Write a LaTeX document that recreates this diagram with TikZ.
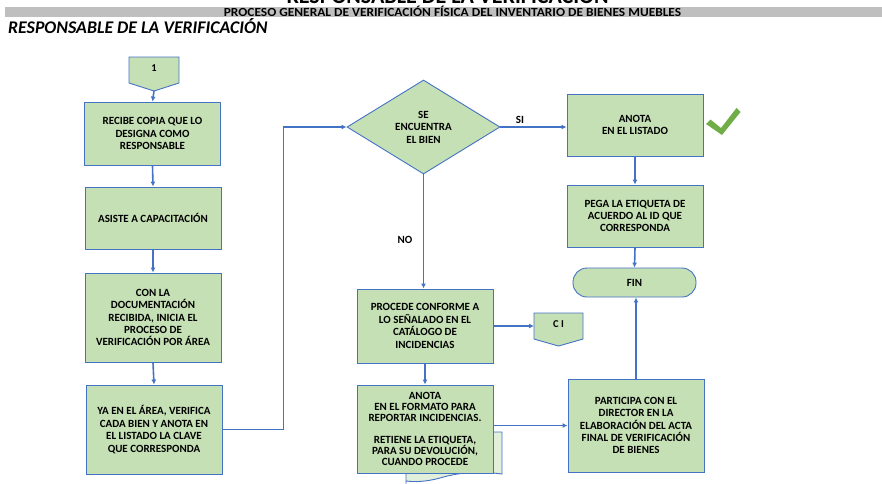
\documentclass[tikz,border=0pt]{standalone}
\usepackage{fontspec}
\setmainfont{Carlito}
\usetikzlibrary{shapes.geometric,arrows.meta}
\definecolor{boxfill}{HTML}{C5E0B4}
\definecolor{boxline}{HTML}{4472C4}
\definecolor{docfill}{HTML}{E2EFDA}
\definecolor{barfill}{HTML}{BFBFBF}
\definecolor{checkgreen}{HTML}{70AD47}
\tikzset{
  boxfont/.style={font=\fontsize{11}{12.4}\selectfont\bfseries},
  procbox/.style={draw=boxline, fill=boxfill, line width=0.9pt, minimum width=136pt, align=center, inner sep=2pt, boxfont},
  decis/.style={draw=boxline, fill=boxfill, line width=0.9pt, diamond, minimum width=153pt, minimum height=94pt, inner sep=0pt, align=center, boxfont},
  termin/.style={draw=boxline, fill=boxfill, line width=0.9pt, rounded corners=14pt, minimum width=123pt, minimum height=29pt, boxfont},
  conntext/.style={font=\fontsize{10.5}{12}\selectfont\bfseries, inner sep=0pt},
  connshape/.style={draw=boxline, fill=boxfill, line width=0.9pt},
  flow/.style={draw=boxline, line width=1.6pt, -{Latex[length=5pt,width=5pt]}},
  lbl/.style={font=\fontsize{11}{12}\selectfont\bfseries, inner sep=0pt}
}
\begin{document}
\begin{tikzpicture}[x=1pt,y=-1pt]
\useasboundingbox (0,0) rectangle (882,483);
\clip (0,0) rectangle (882,483);
% header
\node[anchor=base, font=\fontsize{22}{24}\selectfont\bfseries, inner sep=0pt] (toptitle) at (447.5,3.6) {RESPONSABLE DE LA VERIFICACIÓN};
\fill[barfill] (5,6.7) rectangle (882,17.2);
\node[anchor=base, font=\fontsize{12.4}{13}\selectfont\bfseries, inner sep=0pt] (subtitle) at (452.5,16) {\scalebox{1.08}[1]{PROCESO GENERAL DE VERIFICACIÓN FÍSICA DEL INVENTARIO DE BIENES MUEBLES}};
\node[anchor=base west, font=\fontsize{17.8}{20}\selectfont\bfseries\itshape, inner sep=0pt] (lane) at (8,33.3) {RESPONSABLE DE LA VERIFICACIÓN};

% document shape behind box8
\path[draw=boxline, fill=docfill, line width=0.9pt] (406,490) -- (406,432) -- (502,432) -- (502,474) .. controls (480,471) and (460,472) .. (440,478) .. controls (425,482) and (415,482) .. (406,481);

% off-page connector 1
\path[connshape] (129,57) -- (179,57) -- (179,83) -- (154,91) -- (129,83) -- cycle;
\node[conntext] (c1) at (154,68) {1};
\coordinate (c1tip) at (154,91);

% left column
\node[procbox, minimum height=63pt] (b1) at (152.5,133.5) {RECIBE COPIA QUE LO\\DESIGNA COMO\\RESPONSABLE};
\node[procbox, minimum height=62pt] (b2) at (153,218) {ASISTE A CAPACITACIÓN};
\node[procbox, minimum height=89pt] (b3) at (153,317.5) {CON LA\\DOCUMENTACIÓN\\RECIBIDA, INICIA EL\\PROCESO DE\\VERIFICACIÓN POR ÁREA};
\node[procbox, minimum height=89pt] (b4) at (154,429.5) {YA EN EL ÁREA, VERIFICA\\CADA BIEN Y ANOTA EN\\EL LISTADO LA CLAVE\\QUE CORRESPONDA};

% decision
\node[decis] (dia) at (423.5,127) {SE\\ENCUENTRA\\EL BIEN};

% right column
\node[procbox, minimum height=62pt] (b5) at (635,125) {ANOTA\\EN EL LISTADO};
\node[procbox, minimum height=62pt] (b6) at (635,216) {PEGA LA ETIQUETA DE\\ACUERDO AL ID QUE\\CORRESPONDA};
\node[termin] (fin) at (634.5,282.5) {FIN};
\node[procbox, minimum height=93pt] (b9) at (636,425.5) {PARTICIPA CON EL\\DIRECTOR EN LA\\ELABORACIÓN DEL ACTA\\FINAL DE VERIFICACIÓN\\DE BIENES};

% middle column
\node[procbox, minimum height=74pt] (b7) at (425,326) {PROCEDE CONFORME A\\LO SEÑALADO EN EL\\CATÁLOGO DE\\INCIDENCIAS};
\node[procbox, minimum height=88pt, font=\fontsize{11}{11}\selectfont\bfseries] (b8) at (425,429) {ANOTA\\EN EL FORMATO PARA\\REPORTAR INCIDENCIAS.\\[11pt]RETIENE LA ETIQUETA,\\PARA SU DEVOLUCIÓN,\\CUANDO PROCEDE};

% CI connector
\path[connshape] (534,313) -- (583,313) -- (583,339) -- (558.5,346) -- (534,339) -- cycle;
\node[conntext] (ci) at (558.5,324) {C I};
\coordinate (ciw) at (534,326);

% checkmark
\fill[checkgreen] (706,124) -- (710.5,119.5) -- (721,128) -- (736.5,108) -- (740.5,112) -- (722,135) -- cycle;

% labels
\node[lbl] (si) at (520,119.5) {SI};
\node[lbl] (no) at (405,239.5) {NO};

% connectors
\draw[flow] (c1tip) -- (b1.north);
\draw[flow] (b1.south) -- (b2.north);
\draw[flow] (b2.south) -- (b3.north);
\draw[flow] (b3.south) -- (b4.north);
\draw[flow] (b4.east) -- ++(61,0) |- (dia.west);
\draw[flow] (dia.east) -- (dia.east -| b5.west);
\draw[flow] (b5.south) -- (b6.north);
\draw[flow] (b6.south) -- (fin.north);
\draw[flow] (b9.north) -- (b9.north |- fin.south);
\draw[flow] (dia.south) -- (dia.south |- b7.north);
\draw[flow] (b7.east) -- (ciw);
\draw[flow] (b7.south) -- (b8.north);
\draw[flow] (b8.east |- b9.west) -- (b9.west);
\end{tikzpicture}
\end{document}
